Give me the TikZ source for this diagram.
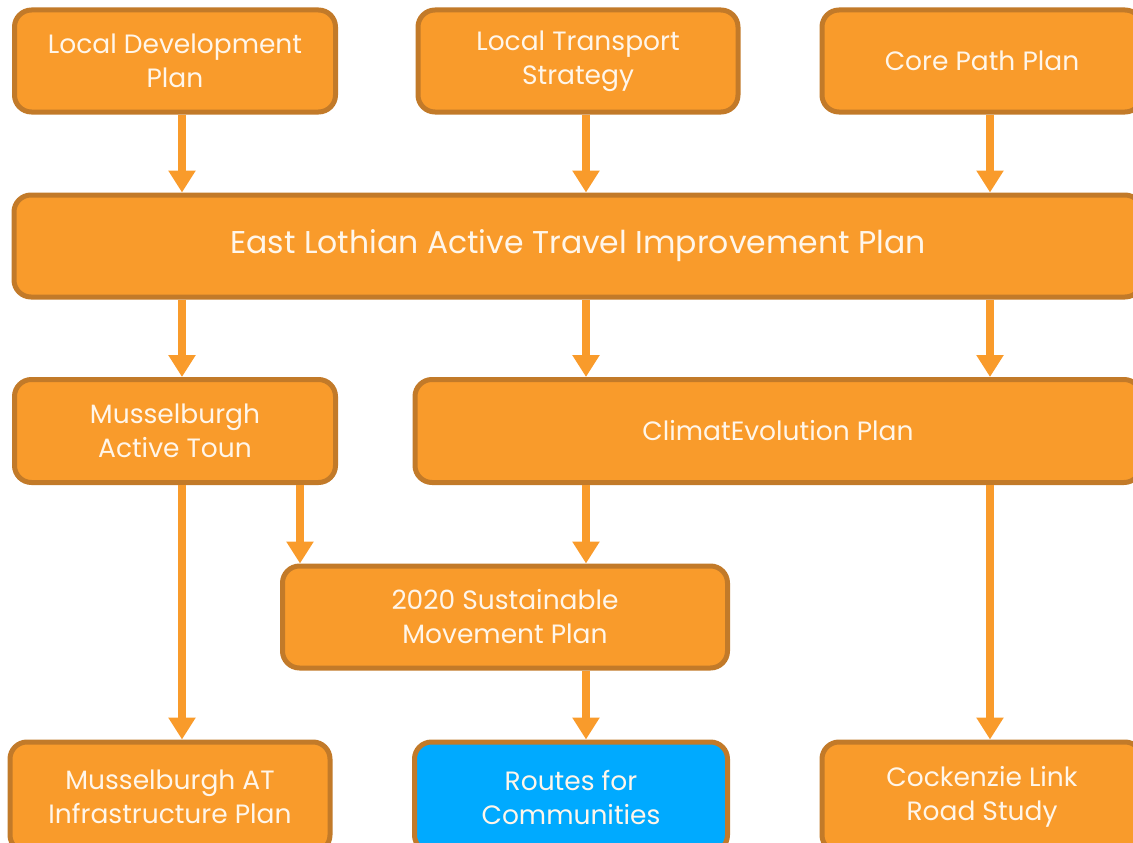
\documentclass[tikz,border=0pt]{standalone}
\usepackage{fontspec}
\setmainfont{Poppins}
\usetikzlibrary{arrows.meta}
\definecolor{boxfill}{HTML}{F99B2B}
\definecolor{boxline}{HTML}{C27A29}
\definecolor{bluefill}{HTML}{00AAFF}
\definecolor{txt}{HTML}{FFF6EA}
\tikzset{
  box/.style={draw=boxline, line width=5pt, fill=boxfill, rounded corners=17pt,
    text=txt, align=center, inner sep=0pt,
    font=\fontsize{26.5}{34}\selectfont},
  arr/.style={draw=boxfill, line width=8pt, -{Triangle[width=26pt,length=22pt]}}
}
\begin{document}
\begin{tikzpicture}[x=1pt,y=-1pt]
\useasboundingbox (0,0) rectangle (1133,843);
\clip (0,0) rectangle (1133,843);
% top row
\node[box, minimum width=321pt, minimum height=102pt] (ldp) at (175,61) {Local Development\\Plan};
\node[box, minimum width=320pt, minimum height=102pt] (lts) at (578,61) {Local Transport\\Strategy};
\node[box, minimum width=320pt, minimum height=102pt] (cpp) at (982,61) {Core Path Plan};
% main plan
\node[box, minimum width=1128pt, minimum height=102pt, font=\fontsize{31.5}{34}\selectfont] (el) at (578,246) {East Lothian Active Travel Improvement Plan};
% third row
\node[box, minimum width=321pt, minimum height=103pt] (mat) at (175,431) {Musselburgh\\Active Toun};
\node[box, minimum width=726pt, minimum height=103pt] (cep) at (778,431) {ClimatEvolution Plan};
% fourth row
\node[box, minimum width=445pt, minimum height=102pt] (smp) at (505,617) {2020 Sustainable\\Movement Plan};
% bottom row
\node[box, minimum width=320pt, minimum height=110pt] (maip) at (170,797) {Musselburgh AT\\Infrastructure Plan};
\node[box, minimum width=313pt, minimum height=110pt, fill=bluefill] (rfc) at (571,797) {Routes for\\Communities};
\node[box, minimum width=320pt, minimum height=110pt] (clrs) at (982,797) {Cockenzie Link\\Road Study};
% arrows
\draw[arr] ([xshift=7pt]ldp.south) -- ([xshift=7pt]ldp.south |- el.north);
\draw[arr] ([xshift=8pt]lts.south) -- ([xshift=8pt]lts.south |- el.north);
\draw[arr] ([xshift=8pt]cpp.south) -- ([xshift=8pt]cpp.south |- el.north);
\draw[arr] ([xshift=7pt]ldp.south |- el.south) -- ([xshift=7pt]mat.north);
\draw[arr] ([xshift=8pt]el.south) -- ([xshift=8pt]el.south |- cep.north);
\draw[arr] ([xshift=8pt]cpp.south |- el.south) -- ([xshift=8pt]cpp.south |- cep.north);
\draw[arr] ([xshift=7pt]mat.south) -- ([xshift=7pt]mat.south |- maip.north);
\draw[arr] ([xshift=125pt]mat.south) -- ([xshift=125pt]mat.south |- smp.north);
\draw[arr] ([xshift=8pt]lts.south |- cep.south) -- ([xshift=8pt]lts.south |- smp.north);
\draw[arr] ([xshift=8pt]lts.south |- smp.south) -- ([xshift=8pt]lts.south |- rfc.north);
\draw[arr] ([xshift=8pt]cpp.south |- cep.south) -- ([xshift=8pt]cpp.south |- clrs.north);
\end{tikzpicture}
\end{document}
